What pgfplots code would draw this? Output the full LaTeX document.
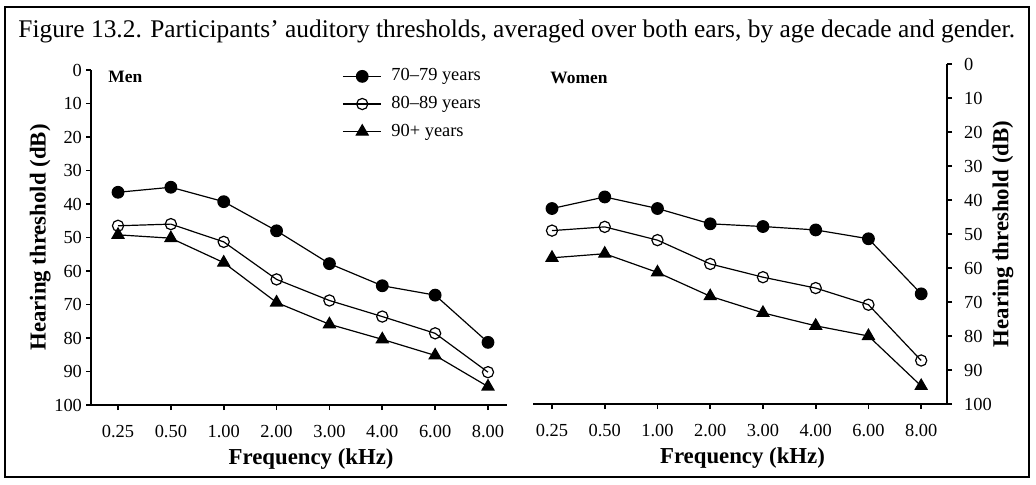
\documentclass[border=0pt]{standalone}
\usepackage{fontspec}
\setmainfont{Liberation Serif}
\usepackage{pgfplots}
\usepackage{pgfplotstable}
\pgfplotsset{compat=1.18}

\pgfplotstableread{
x a b c
0 36.5 46.5 49.2
1 35.0 46.0 50.2
2 39.3 51.3 57.5
3 48.0 62.5 69.4
4 57.8 68.8 75.9
5 64.4 73.6 80.4
6 67.2 78.6 85.2
7 81.3 90.2 94.5
}\men

\pgfplotstableread{
x a b c
0 42.5 49.0 57.0
1 39.1 47.9 55.8
2 42.5 51.8 61.3
3 47.0 58.8 68.3
4 47.8 62.7 73.2
5 48.8 65.9 77.0
6 51.4 70.8 80.0
7 67.6 87.2 94.7
}\women

\pgfplotsset{
  panel/.style={
    scale only axis,
    y dir=reverse,
    ymin=0, ymax=100,
    ytick={0,10,...,100},
    xtick={0,...,7},
    xticklabels={0.25,0.50,1.00,2.00,3.00,4.00,6.00,8.00},
    tick align=outside,
    major tick length=2.5pt,
    axis line style={line width=0.8pt},
    every tick/.style={line width=0.8pt, black},
    tick label style={font=\fontsize{9.2}{10}\selectfont},
    /pgf/number format/assume math mode=true,
    label style={font=\fontsize{11.4}{13}\selectfont\bfseries},
    axis x line*=bottom,
    xticklabel style={yshift=-4pt},
    xlabel={Frequency (kHz)},
    ylabel={Hearing threshold (dB)},
  },
  s70/.style={black, line width=0.6pt, mark=*, mark size=2.9pt, mark options={solid, fill=black}},
  s80/.style={black, line width=0.6pt, mark=o, mark size=2.8pt, mark options={solid, fill=white}},
  s90/.style={black, line width=0.6pt, mark=triangle*, mark size=3.4pt, mark options={solid, fill=black}},
}

\begin{document}
\begin{tikzpicture}
\useasboundingbox (0pt,0pt) rectangle (518pt,242pt);
\draw[line width=0.8pt] (2.5pt,3.5pt) rectangle (514.5pt,238.5pt);
\node[anchor=west, font=\fontsize{12.7}{15}\selectfont, inner sep=0pt] at (9pt,226.5pt)
  {Figure 13.2. Participants’ auditory thresholds, averaged over both ears, by age decade and gender.};

\begin{axis}[panel,
  at={(45.5pt,39.5pt)}, anchor=south west,
  width=208pt, height=167.5pt,
  xmin=-0.511, xmax=7.36,
  axis y line*=left,
  yticklabel style={xshift=1.5pt},
  ylabel style={at={(axis description cs:-0.122,0.5)}, anchor=center},
  xlabel style={at={(axis description cs:0.529,-0.16)}, anchor=center},
  legend style={draw=none, fill=none, at={(axis description cs:0.603,0.8985)}, anchor=west,
    font=\fontsize{9.2}{10}\selectfont, inner sep=0pt, row sep=2.2pt},
  legend cell align=left,
  legend image code/.code={\draw[mark repeat=2,mark phase=2] plot coordinates {(0pt,0pt)(9.7pt,0pt)(19.2pt,0pt)}; \path (22pt,0pt);},
]
\addplot[s70] table[x=x,y=a] {\men};
\addlegendentry{70–79 years}
\addplot[s80] table[x=x,y=b] {\men};
\addlegendentry{80–89 years}
\addplot[s90] table[x=x,y=c] {\men};
\addlegendentry{90+ years}
\node[anchor=west, inner sep=0pt, font=\fontsize{8.7}{10}\selectfont\bfseries] at (axis description cs:0.041,0.979) {Men};
\end{axis}

\begin{axis}[panel,
  at={(266.5pt,40pt)}, anchor=south west,
  width=207pt, height=170pt,
  xmin=-0.36, xmax=7.49,
  axis y line*=right,
  yticklabel style={xshift=2.5pt},
  ylabel style={at={(axis description cs:1.135,0.5)}, anchor=center},
  xlabel style={at={(axis description cs:0.506,-0.16)}, anchor=center},
]
\addplot[s70] table[x=x,y=a] {\women};
\addplot[s80] table[x=x,y=b] {\women};
\addplot[s90] table[x=x,y=c] {\women};
\node[anchor=west, inner sep=0pt, font=\fontsize{8.7}{10}\selectfont\bfseries] at (axis description cs:0.041,0.960) {Women};
\end{axis}
\end{tikzpicture}
\end{document}
